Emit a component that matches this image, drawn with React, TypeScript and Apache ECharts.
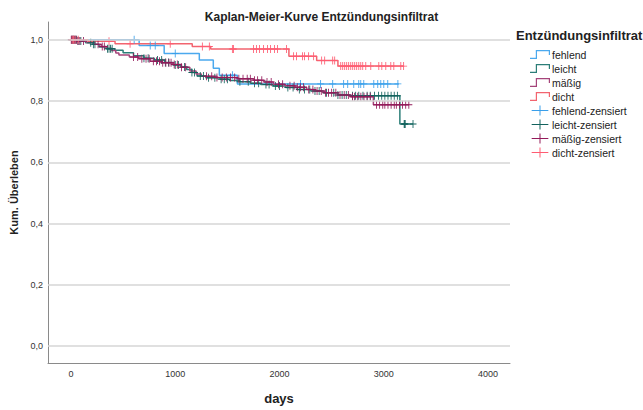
import React, { useEffect, useRef } from "react";
import * as echarts from "echarts";

// ---------- data ----------
const groupNames = ["fehlend", "leicht", "mäßig", "dicht"];
const censorNames = ["fehlend-zensiert", "leicht-zensiert", "mäßig-zensiert", "dicht-zensiert"];

const fehlendTimes = [0, 654, 894, 1231, 1365, 1423, 1596];
const fehlendSurv = [1, 0.981, 0.955, 0.934, 0.907, 0.884, 0.856];
const fehlendEnd = 3144;
const fehlendCensor = [606, 760, 808, 1000, 1548, 2202, 2394, 2510, 2615, 2654, 2712, 2760, 2779, 2808, 2904, 2942, 2971, 3000, 3038, 3135];

const leichtTimes = [0, 60, 140, 210, 270, 340, 420, 500, 600, 700, 800, 900, 980, 1050, 1110, 1160, 1210, 1300, 1430, 1520, 1620, 1720, 1820, 1940, 2060, 2170, 2300, 2420, 2560, 2680, 3154];
const leichtSurv = [1, 0.996, 0.99, 0.985, 0.976, 0.971, 0.966, 0.958, 0.948, 0.94, 0.934, 0.926, 0.918, 0.911, 0.903, 0.893, 0.882, 0.876, 0.871, 0.867, 0.863, 0.858, 0.854, 0.849, 0.844, 0.838, 0.833, 0.827, 0.82, 0.817, 0.725];
const leichtEnd = 3280;
const leichtCensor = [8, 18, 30, 42, 55, 75, 95, 190, 215, 230, 350, 365, 380, 395, 700, 740, 830, 870, 905, 935, 1000, 1030, 1090, 1160, 1185, 1240, 1270, 1320, 1380, 1440, 1470, 1500, 1620, 1700, 1760, 1800, 1870, 1900, 1960, 2000, 2080, 2130, 2190, 2240, 2290, 2340, 2380, 2450, 2520, 2560, 2600, 2640, 2700, 2730, 2760, 2800, 2840, 2870, 2910, 2950, 2980, 3010, 3040, 3070, 3100, 3130, 3195, 3200, 3205, 3280];

const maessigTimes = [0, 60, 150, 230, 290, 340, 390, 430, 460, 560, 650, 760, 870, 980, 1060, 1140, 1200, 1250, 1400, 1600, 1750, 1850, 1940, 2050, 2150, 2260, 2330, 2430, 2560, 2680, 2900];
const maessigSurv = [1, 0.996, 0.991, 0.985, 0.978, 0.972, 0.965, 0.957, 0.95, 0.944, 0.938, 0.93, 0.925, 0.919, 0.91, 0.898, 0.888, 0.881, 0.877, 0.873, 0.868, 0.862, 0.855, 0.85, 0.845, 0.838, 0.833, 0.827, 0.82, 0.814, 0.788];
const maessigEnd = 3240;
const maessigCensor = [3, 10, 20, 28, 38, 50, 65, 85, 120, 260, 300, 320, 600, 640, 680, 720, 750, 790, 820, 850, 880, 910, 940, 960, 990, 1020, 1060, 1100, 1300, 1350, 1400, 1450, 1490, 1530, 1570, 1610, 1650, 1690, 1720, 1760, 1790, 1830, 1880, 1920, 1990, 2030, 2100, 2140, 2170, 2200, 2230, 2280, 2320, 2360, 2400, 2440, 2470, 2500, 2540, 2580, 2620, 2660, 2700, 2720, 2750, 2780, 2810, 2840, 2870, 2930, 2960, 2990, 3010, 3040, 3070, 3100, 3120, 3150, 3180, 3210, 3240];

const dichtTimes = [0, 163, 423, 1163, 1340, 2090, 2356, 2560];
const dichtSurv = [1, 0.995, 0.987, 0.978, 0.97, 0.946, 0.932, 0.914];
const dichtEnd = 3190;
const dichtCensor = [12, 25, 40, 70, 365, 567, 952, 1260, 1327, 1548, 1558, 1750, 1779, 1808, 1846, 1885, 1913, 1952, 1981, 2067, 2135, 2163, 2221, 2240, 2279, 2327, 2404, 2433, 2510, 2529, 2587, 2606, 2625, 2644, 2663, 2683, 2702, 2721, 2740, 2760, 2779, 2798, 2827, 2875, 2952, 2981, 3019, 3067, 3096, 3163, 3190];

const xTicks = [0, 1000, 2000, 3000, 4000];
const yTicks = [0, 0.2, 0.4, 0.6, 0.8, 1.0];

const lineColors = ["#4BA9EE", "#2C7E78", "#A5447A", "#F2646F"];
const censorColors = ["#3A9FEA", "#13625D", "#931A5A", "#FF5C72"];

// ---------- helpers ----------
const stepData = (times: number[], surv: number[], end: number) => {
  const d = times.map((t, i) => [t, surv[i]]);
  d.push([end, surv[surv.length - 1]]);
  return d;
};
const survAt = (times: number[], surv: number[], t: number) => {
  let s = surv[0];
  for (let i = 0; i < times.length; i++) if (times[i] <= t) s = surv[i];
  return s;
};

const FONT = "'Liberation Sans', Arial, sans-serif";
const STEP_ICON = "path://M0,7.8L5.8,7.8L5.8,0L20,0L20,5L18.8,5L18.8,1.2L7,1.2L7,9L0,9Z";
const PLUS_LEGEND = "path://M0,5.4H20V6.6H0ZM9.4,0H10.6V12H9.4Z";
const PLUS = "path://M4.4,0H5.6V10H4.4ZM0,4.4H10V5.6H0Z";

export default function App() {
  const ref = useRef<HTMLDivElement>(null);
  useEffect(() => {
    if (!ref.current) return;
    const chart = echarts.init(ref.current, undefined, { renderer: "svg" });
    const groups = [
      [fehlendTimes, fehlendSurv, fehlendEnd, fehlendCensor],
      [leichtTimes, leichtSurv, leichtEnd, leichtCensor],
      [maessigTimes, maessigSurv, maessigEnd, maessigCensor],
      [dichtTimes, dichtSurv, dichtEnd, dichtCensor],
    ] as [number[], number[], number, number[]][];

    const lineSeries = groups.map(([t, s, e], i) => ({
      name: groupNames[i],
      type: "line",
      step: "end",
      symbol: "none",
      data: stepData(t, s, e),
      color: lineColors[i],
      lineStyle: { width: 1.5, color: lineColors[i] },
      z: 3,
      silent: true,
    }));
    const censorSeries = groups.map(([t, s, , c], i) => ({
      name: censorNames[i],
      type: "scatter",
      symbol: PLUS,
      symbolSize: [7, 8],
      data: c.map((ct) => [ct, survAt(t, s, ct)]),
      color: censorColors[i],
      itemStyle: { color: censorColors[i], opacity: 1 },
      z: 4,
      silent: true,
    }));

    chart.setOption({
      animation: false,
      textStyle: { fontFamily: FONT },
      title: [
        {
          text: "Kaplan-Meier-Kurve Entzündungsinfiltrat",
          left: "center",
          top: 6,
          textStyle: { fontSize: 12, fontWeight: "bold", color: "#222", fontFamily: FONT },
        },
        {
          text: "Entzündungsinfiltrat",
          left: 511,
          top: 24,
          textStyle: { fontSize: 13, fontWeight: "bold", color: "#222", fontFamily: FONT },
        },
      ],
      legend: {
        orient: "vertical",
        left: 530,
        top: 49,
        padding: 0,
        itemWidth: 20,
        itemHeight: 10,
        itemGap: 3,
        selectedMode: false,
        itemStyle: { borderWidth: 0 },
        textStyle: { fontSize: 10.5, color: "#222", lineHeight: 10, fontFamily: FONT, padding: [0, 0, 0, -3] },
        data: [
          ...groupNames.map((n) => ({ name: n, icon: STEP_ICON })),
          ...censorNames.map((n) => ({ name: n, icon: PLUS_LEGEND })),
        ],
      },
      grid: { left: 48, right: 133, top: 22, bottom: 44 },
      xAxis: {
        type: "value",
        min: -220,
        max: 4210,
        name: "days",
        nameLocation: "middle",
        nameGap: 29,
        nameTextStyle: { fontSize: 13, fontWeight: "bold", color: "#222", fontFamily: FONT },
        axisLine: { show: true, onZero: false, lineStyle: { color: "#8a8a8a", width: 1 } },
        axisTick: { show: false },
        splitLine: { show: false },
        axisLabel: { customValues: xTicks, fontSize: 9, color: "#333", margin: 6, formatter: (v: number) => String(v) },
      },
      yAxis: {
        type: "value",
        min: -0.055,
        max: 1.058,
        name: "Kum. Überleben",
        nameLocation: "middle",
        nameGap: 29,
        nameTextStyle: { fontSize: 11, fontWeight: "bold", color: "#222", fontFamily: FONT },
        axisLine: { show: true, onZero: false, lineStyle: { color: "#8a8a8a", width: 1 } },
        axisTick: { show: false },
        splitLine: { show: false },
        axisLabel: {
          customValues: yTicks,
          fontSize: 9,
          color: "#333",
          margin: 5,
          formatter: (v: number) => v.toFixed(1).replace(".", ","),
        },
      },
      series: [
        {
          name: "grid",
          type: "line",
          data: [],
          silent: true,
          z: 1,
          markLine: {
            silent: true,
            symbol: "none",
            label: { show: false },
            lineStyle: { color: "#d6d6d6", width: 1.5, type: "solid" },
            data: yTicks.map((v) => ({ yAxis: v })),
          },
        },
        ...lineSeries,
        ...censorSeries,
      ],
    });
    return () => chart.dispose();
  }, []);
  return (
    <div
      ref={ref}
      style={{ position: "fixed", left: 0, top: 0, width: 643, height: 410, background: "#fff" }}
    />
  );
}
